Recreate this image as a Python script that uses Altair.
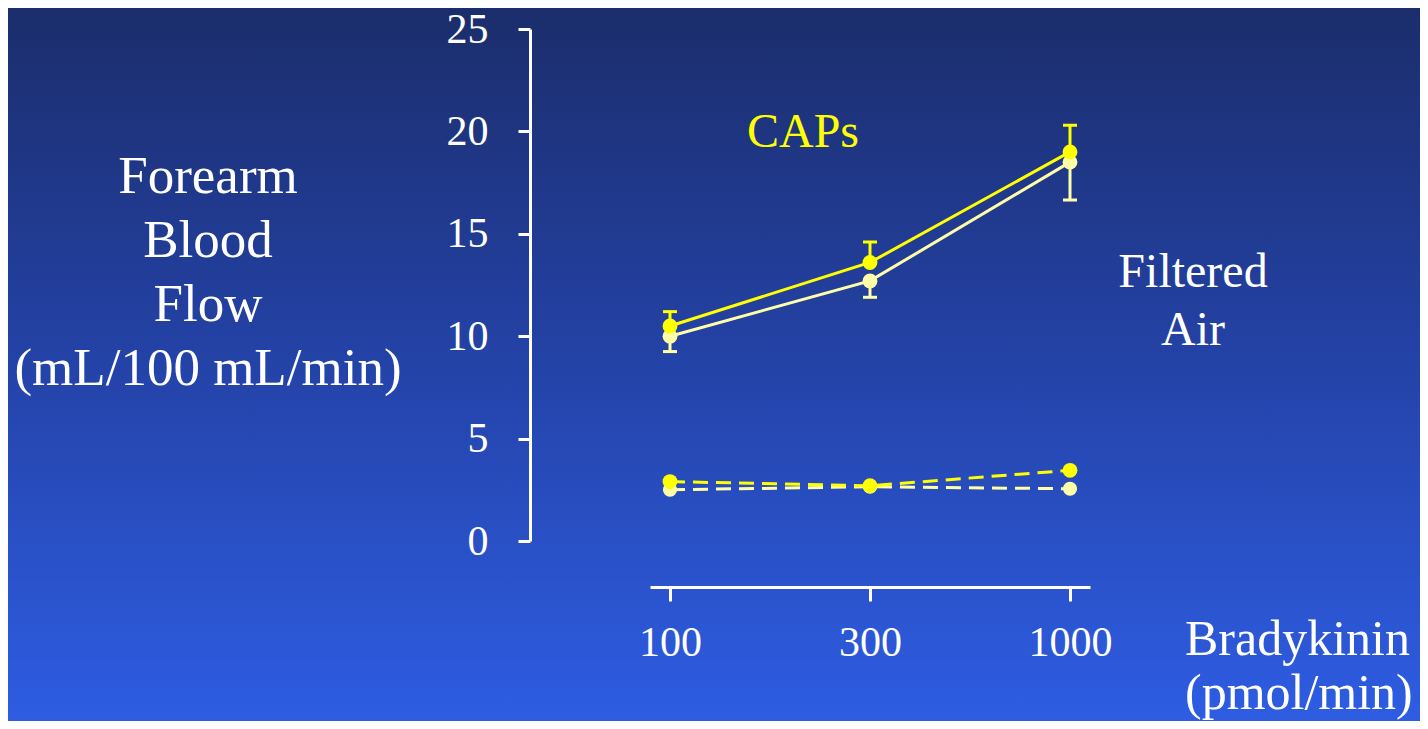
import altair as alt
import pandas as pd

# ---- data ----
doses = ["100", "300", "1000"]
caps_flow = [10.5, 13.6, 19.0]
caps_upper = [11.2, 14.6, 20.3]
air_flow = [10.0, 12.7, 18.5]
air_lower = [9.25, 11.9, 16.65]
caps_dashed = [2.9, 2.7, 3.45]
air_dashed = [2.5, 2.65, 2.55]
y_ticks = [0, 5, 10, 15, 20, 25]

YELLOW = "#ffff00"
PALE = "#ffffa8"
FONT = "Liberation Serif"

caps_df = pd.DataFrame({"dose": doses, "v": caps_flow, "e": caps_upper})
air_df = pd.DataFrame({"dose": doses, "v": air_flow, "e": air_lower})
caps_d_df = pd.DataFrame({"dose": doses, "v": caps_dashed})
air_d_df = pd.DataFrame({"dose": doses, "v": air_dashed})
one = pd.DataFrame({"a": [0]})


def xenc():
    return alt.X("dose:O", sort=doses,
                 scale=alt.Scale(type="point", domain=doses, padding=0.1),
                 axis=alt.Axis(title=None, labelAngle=0, offset=46, tickSize=14,
                               tickWidth=3, domainWidth=3, labelPadding=21,
                               labelFontSize=42, labelFont=FONT, labelColor="white",
                               domainColor="white", tickColor="white", grid=False,
                               zindex=1))


def yenc(field):
    return alt.Y(f"{field}:Q",
                 scale=alt.Scale(domain=[0, 25], nice=False, zero=True),
                 axis=alt.Axis(title=None, values=y_ticks, offset=120, tickSize=12,
                               tickWidth=3, domainWidth=3, labelPadding=30,
                               labelFontSize=42, labelFont=FONT, labelColor="white",
                               domainColor="white", tickColor="white", grid=False,
                               zindex=1))


bg = alt.Chart(one).mark_rect(
    fill=alt.LinearGradient(
        gradient="linear", x1=0, x2=0, y1=0, y2=1,
        stops=[alt.GradientStop(offset=0, color="#1b2d6b"),
               alt.GradientStop(offset=0.5, color="#2443a8"),
               alt.GradientStop(offset=1, color="#2e5de3")]),
    strokeWidth=0,
).encode(x=alt.value(-642), x2=alt.value(770), y=alt.value(-21), y2=alt.value(692))

air_dash = alt.Chart(air_d_df).mark_line(color=PALE, strokeWidth=3, strokeDash=[15, 8]).encode(x=xenc(), y=yenc("v"))
caps_dash = alt.Chart(caps_d_df).mark_line(color=YELLOW, strokeWidth=3, strokeDash=[15, 8]).encode(x=xenc(), y=yenc("v"))
air_dash_pts = alt.Chart(air_d_df).mark_circle(color=PALE, size=200, opacity=1).encode(x=xenc(), y=yenc("v"))
caps_dash_pts = alt.Chart(caps_d_df).mark_circle(color=YELLOW, size=220, opacity=1).encode(x=xenc(), y=yenc("v"))

air_line = alt.Chart(air_df).mark_line(color=PALE, strokeWidth=3).encode(x=xenc(), y=yenc("v"))
air_rule = alt.Chart(air_df).mark_rule(color=PALE, strokeWidth=3).encode(x=xenc(), y=yenc("v"), y2="e:Q")
air_cap = alt.Chart(air_df).mark_tick(color=PALE, size=14, thickness=3, opacity=1).encode(x=xenc(), y=yenc("e"))
air_pts = alt.Chart(air_df).mark_circle(color=PALE, size=220, opacity=1).encode(x=xenc(), y=yenc("v"))

caps_line = alt.Chart(caps_df).mark_line(color=YELLOW, strokeWidth=3).encode(x=xenc(), y=yenc("v"))
caps_rule = alt.Chart(caps_df).mark_rule(color=YELLOW, strokeWidth=3).encode(x=xenc(), y=yenc("v"), y2="e:Q")
caps_cap = alt.Chart(caps_df).mark_tick(color=YELLOW, size=14, thickness=3, opacity=1).encode(x=xenc(), y=yenc("e"))
caps_pts = alt.Chart(caps_df).mark_circle(color=YELLOW, size=220, opacity=1).encode(x=xenc(), y=yenc("v"))

ylabel = alt.Chart(one).mark_text(
    text=["Forearm", "Blood", "Flow", "(mL/100 mL/min)"], font=FONT, fontSize=53,
    color="white", align="center", baseline="alphabetic", lineHeight=64,
).encode(x=alt.value(-442), y=alt.value(164))

caps_lbl = alt.Chart(one).mark_text(
    text="CAPs", font=FONT, fontSize=48, color=YELLOW, align="center", baseline="alphabetic",
).encode(x=alt.value(153), y=alt.value(118))

air_lbl = alt.Chart(one).mark_text(
    text=["Filtered", "Air"], font=FONT, fontSize=48, color="white", align="center",
    baseline="alphabetic", lineHeight=58,
).encode(x=alt.value(543), y=alt.value(258))

xlabel = alt.Chart(one).mark_text(
    text=["Bradykinin", "(pmol/min)"], font=FONT, fontSize=50, color="white", align="left",
    baseline="alphabetic", lineHeight=54,
).encode(x=alt.value(535), y=alt.value(626))

chart = alt.layer(
    bg, air_dash, caps_dash, air_dash_pts, caps_dash_pts,
    air_line, air_rule, air_cap, air_pts,
    caps_line, caps_rule, caps_cap, caps_pts,
    ylabel, caps_lbl, air_lbl, xlabel,
).properties(
    width=440, height=512,
    padding={"left": 642, "top": 21, "right": 330, "bottom": 180},
    autosize=alt.AutoSizeParams(type="none"),
    background="#2443a8",
).configure_view(stroke=None)

chart.save("out.html", embed_options={"renderer": "svg", "actions": False})
